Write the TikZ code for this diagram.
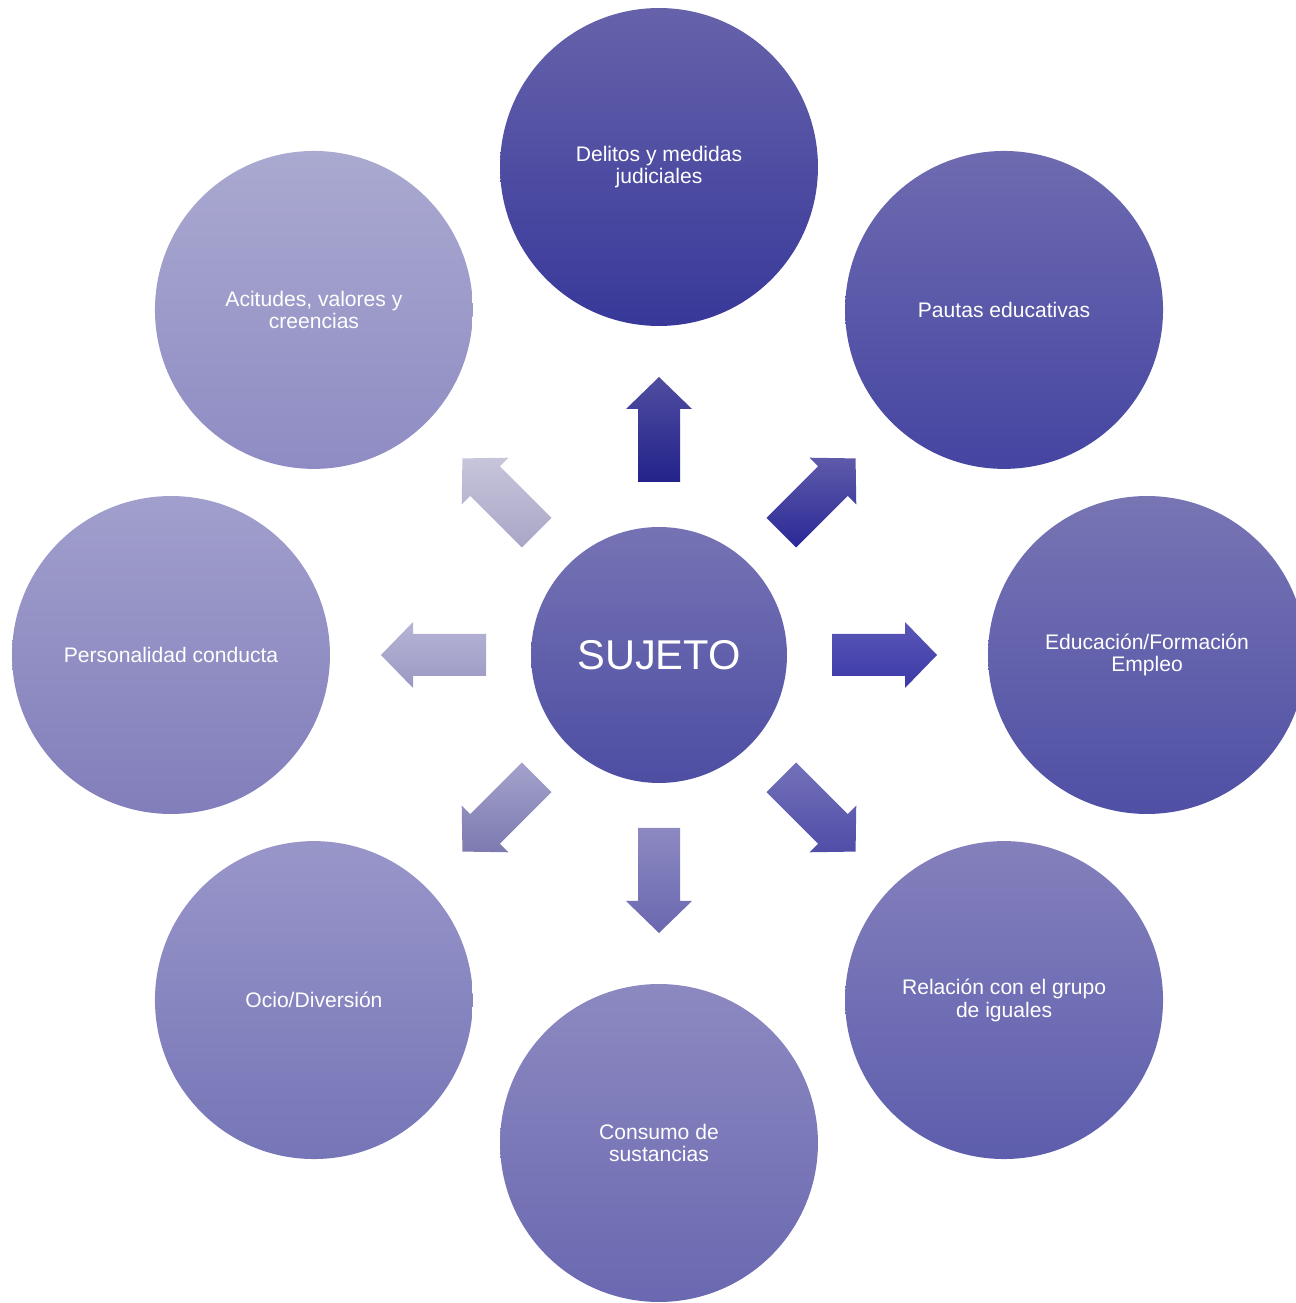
\documentclass[tikz,border=0pt]{standalone}
\usepackage{fontspec}
\setmainfont{Liberation Sans}
\usetikzlibrary{calc}
% circles: top and bottom colour of each gradient
\definecolor{cTopA}{HTML}{6662AA}\definecolor{cTopB}{HTML}{38389A}
\definecolor{cTrA}{HTML}{6E6BB0}\definecolor{cTrB}{HTML}{4545A2}
\definecolor{cRA}{HTML}{7875B4}\definecolor{cRB}{HTML}{4F4FA5}
\definecolor{cBrA}{HTML}{8480BC}\definecolor{cBrB}{HTML}{5D5DAD}
\definecolor{cBA}{HTML}{8C89C1}\definecolor{cBB}{HTML}{6A68B0}
\definecolor{cBlA}{HTML}{9896C9}\definecolor{cBlB}{HTML}{7675B7}
\definecolor{cLA}{HTML}{A19FCC}\definecolor{cLB}{HTML}{817EBB}
\definecolor{cTlA}{HTML}{AAA9D0}\definecolor{cTlB}{HTML}{8E8CC3}
\definecolor{cMidA}{HTML}{7673B4}\definecolor{cMidB}{HTML}{4D4DA3}
% arrows
\definecolor{aTopA}{HTML}{504DA0}\definecolor{aTopB}{HTML}{22228A}
\definecolor{aTrA}{HTML}{5E5BAA}\definecolor{aTrB}{HTML}{2B2897}
\definecolor{aRA}{HTML}{5957B6}\definecolor{aRB}{HTML}{3C39A8}
\definecolor{aBrA}{HTML}{7471BA}\definecolor{aBrB}{HTML}{4F4DA7}
\definecolor{aBA}{HTML}{8C89C2}\definecolor{aBB}{HTML}{6A67B0}
\definecolor{aBlA}{HTML}{A4A2CC}\definecolor{aBlB}{HTML}{7C7AB0}
\definecolor{aLA}{HTML}{B6B5D5}\definecolor{aLB}{HTML}{9A98C3}
\definecolor{aTlA}{HTML}{C6C5DB}\definecolor{aTlB}{HTML}{A8A6C6}
% block arrow out of the hub: angle, top colour, bottom colour
\newcommand\blkarrow[3]{%
  \shade[top color=#2, bottom color=#3]
    ($(sujeto)+(#1:173)+(#1+90:21)$) -- ($(sujeto)+(#1:246)+(#1+90:21)$)
    -- ($(sujeto)+(#1:246)+(#1+90:33)$) -- ($(sujeto)+(#1:278)$)
    -- ($(sujeto)+(#1:246)+(#1-90:33)$) -- ($(sujeto)+(#1:246)+(#1-90:21)$)
    -- ($(sujeto)+(#1:173)+(#1-90:21)$) -- cycle;}
\begin{document}
\begin{tikzpicture}[x=0.02cm, y=0.02cm,
  main node/.style={circle, minimum size=6.36cm, inner sep=0pt, text=white,
    align=center, font=\fontsize{12}{13}\selectfont},
  hub node/.style={circle, minimum size=5.12cm, inner sep=0pt, text=white,
    font=\fontsize{23.7}{28}\selectfont}]
\useasboundingbox (0,0) rectangle (1296,1303);
\node[hub node, top color=cMidA, bottom color=cMidB] (sujeto) at (659,648) {SUJETO};
\begin{scope}
\node[main node, top color=cTopA, bottom color=cTopB] (delitos) at ($(sujeto)+(90:488)$) {Delitos y medidas\\judiciales};
\node[main node, top color=cTrA, bottom color=cTrB] (pautas) at ($(sujeto)+(45:488)$) {Pautas educativas};
\node[main node, top color=cRA, bottom color=cRB] (educ) at ($(sujeto)+(0:488)$) {Educación/Formación\\Empleo};
\node[main node, top color=cBrA, bottom color=cBrB] (iguales) at ($(sujeto)+(-45:488)$) {Relación con el grupo\\de iguales};
\node[main node, top color=cBA, bottom color=cBB] (consumo) at ($(sujeto)+(-90:488)$) {Consumo de\\sustancias};
\node[main node, top color=cBlA, bottom color=cBlB] (ocio) at ($(sujeto)+(-135:488)$) {Ocio/Diversión};
\node[main node, top color=cLA, bottom color=cLB] (person) at ($(sujeto)+(180:488)$) {Personalidad conducta};
\node[main node, top color=cTlA, bottom color=cTlB] (acti) at ($(sujeto)+(135:488)$) {Acitudes, valores y\\creencias};
\end{scope}
\begin{scope}
\blkarrow{90}{aTopA}{aTopB}
\blkarrow{45}{aTrA}{aTrB}
\blkarrow{0}{aRA}{aRB}
\blkarrow{-45}{aBrA}{aBrB}
\blkarrow{-90}{aBA}{aBB}
\blkarrow{-135}{aBlA}{aBlB}
\blkarrow{180}{aLA}{aLB}
\blkarrow{135}{aTlA}{aTlB}
\end{scope}
\end{tikzpicture}
\end{document}
